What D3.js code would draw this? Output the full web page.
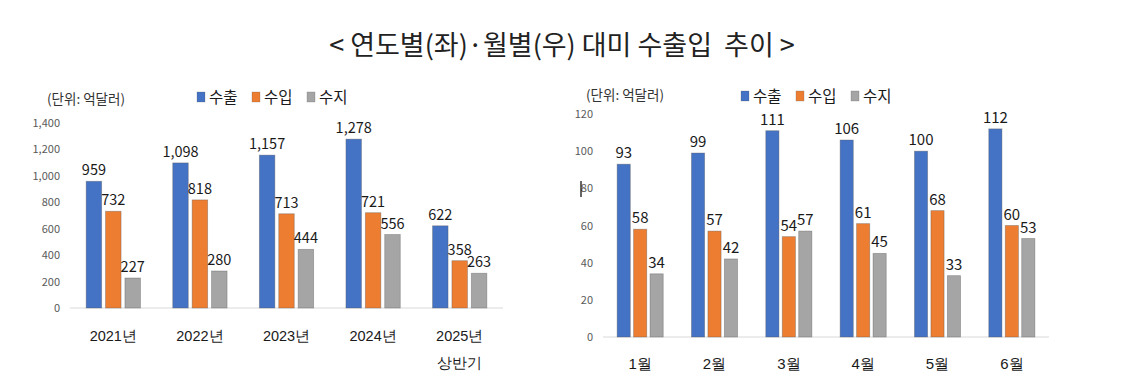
<!DOCTYPE html>
<html><head><meta charset="utf-8">
<script src="https://cdn.jsdelivr.net/npm/d3@7"></script>
<style>
body{margin:0;background:#fff;}
svg{display:block;font-family:"Noto Sans CJK KR","Noto Sans",sans-serif;}
</style></head>
<body><svg id="c" width="1124" height="392"></svg>
<script>
const seriesNames = ["수출","수입","수지"];
const seriesColors = ["#4472C4","#ED7D31","#A5A5A5"];

const yearCats = ["2021년","2022년","2023년","2024년","2025년\n상반기"];
const yearExport = [959,1098,1157,1278,622];
const yearImport = [732,818,713,721,358];
const yearBalance = [227,280,444,556,263];
const yearTicks = [0,200,400,600,800,1000,1200,1400];

const monthCats = ["1월","2월","3월","4월","5월","6월"];
const monthExport = [93,99,111,106,100,112];
const monthImport = [58,57,54,61,68,60];
const monthBalance = [34,42,57,45,33,53];
const monthTicks = [0,20,40,60,80,100,120];

const title = "< 연도별(좌)·월별(우) 대미 수출입  추이 >";
const unitLabel = "(단위: 억달러)";

const svg = d3.select("#c");
svg.append("rect").attr("width",1124).attr("height",392).attr("fill","#fff");

svg.append("text").attr("x",562).attr("y",55).attr("text-anchor","middle")
  .attr("font-size",27).attr("fill","#222").attr("xml:space","preserve").text(title);

function panel(o){
  const g = svg.append("g");
  const x0 = d3.scaleBand().domain(o.cats).range([o.x0,o.x1]);
  const bw = x0.bandwidth();
  const gw = bw*o.groupFrac;
  const x1 = d3.scaleBand().domain(seriesNames).range([(bw-gw)/2,(bw+gw)/2]).paddingInner(0.2);
  const y = d3.scaleLinear().domain([0,o.max]).range([o.y0,o.y1]);

  const ya = d3.axisLeft(y).tickValues(o.ticks).tickSize(0).tickPadding(0).tickFormat(d3.format(","));
  const yg = g.append("g").attr("transform",`translate(${o.tickX},0)`).call(ya);
  yg.select(".domain").remove();
  yg.selectAll("text").attr("font-size",11).attr("fill","#595959").attr("font-family","'Noto Sans CJK KR',sans-serif");

  g.append("line").attr("x1",o.x0).attr("x2",o.x1).attr("y1",y(0)).attr("y2",y(0))
    .attr("stroke","#d9d9d9").attr("stroke-width",1);

  const data = [o.exp,o.imp,o.bal];
  o.cats.forEach((c,i)=>{
    seriesNames.forEach((s,j)=>{
      const v = data[j][i];
      const bx = x0(c)+x1(s);
      g.append("rect").attr("x",bx).attr("y",y(v)).attr("width",x1.bandwidth()).attr("height",y(0)-y(v))
        .attr("fill",seriesColors[j]).attr("stroke","rgba(90,90,90,0.45)").attr("stroke-width",0.8);
      g.append("text").attr("x",bx+x1.bandwidth()/2).attr("y",y(v)-6).attr("text-anchor","middle")
        .attr("font-size",o.labelSize).attr("fill","#1a1a1a").text(o.fmt(v));
    });
  });

  const xa = d3.axisBottom(x0).tickSize(0).tickPadding(0).tickFormat("");
  const xg = g.append("g").attr("transform",`translate(0,${y(0)})`).call(xa);
  xg.select(".domain").remove();
  xg.selectAll(".tick").each(function(d){
    const lines = d.split("\n");
    const t = d3.select(this).append("text").attr("text-anchor","middle").attr("fill","#1a1a1a")
      .attr("font-size",o.catSize);
    lines.forEach((ln,k)=>{
      t.append("tspan").attr("x",0).attr("y",o.catDy + k*27).text(ln);
    });
  });

  g.append("text").attr("x",o.unitX).attr("y",o.unitY).attr("font-size",13.5).attr("fill","#333").text(unitLabel);

  seriesNames.forEach((s,j)=>{
    const lx = o.legX + j*o.legStep;
    g.append("rect").attr("x",lx).attr("y",o.legY-5).attr("width",8).attr("height",10)
      .attr("fill",seriesColors[j]).attr("stroke","rgba(90,90,90,0.4)").attr("stroke-width",0.6);
    g.append("text").attr("x",lx+12).attr("y",o.legY+5.5).attr("font-size",15.5).attr("fill","#1a1a1a").text(s);
  });
}

panel({cats:yearCats, exp:yearExport, imp:yearImport, bal:yearBalance, ticks:yearTicks,
  max:1400, x0:70, x1:503, y0:308, y1:123, tickX:60, groupFrac:0.627,
  fmt:d3.format(","), labelSize:14.5, catSize:14.5, catDy:33,
  unitX:47, unitY:104, legX:197, legStep:55, legY:97});

panel({cats:monthCats, exp:monthExport, imp:monthImport, bal:monthBalance, ticks:monthTicks,
  max:120, x0:603, x1:1049, y0:337, y1:114, tickX:593, groupFrac:0.62,
  fmt:d3.format("d"), labelSize:15, catSize:15, catDy:32,
  unitX:586, unitY:100, legX:741, legStep:55, legY:96});

svg.append("line").attr("x1",581).attr("x2",581).attr("y1",181).attr("y2",197).attr("stroke","#000").attr("stroke-width",1.2);
</script></body></html>
